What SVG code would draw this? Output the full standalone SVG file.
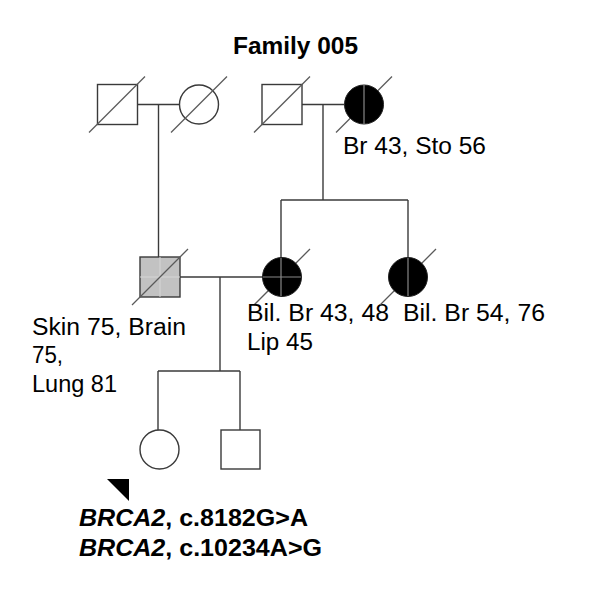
<svg xmlns="http://www.w3.org/2000/svg" width="600" height="600" viewBox="0 0 600 600">
<style>
.ln{stroke:#3a3a3a;stroke-width:1.4;fill:none}
.sh{stroke:#3a3a3a;stroke-width:1.4;fill:#fff}
.dg{stroke:#5a5a5a;stroke-width:1.3;fill:none}
.blk{fill:#000;stroke:#222;stroke-width:1}
.in{stroke:#888;stroke-width:1.2;fill:none}
.t{font-family:"Liberation Sans",Arial,Helvetica,sans-serif;font-size:23.5px;fill:#000}
.b{font-weight:bold}
</style>
<rect width="600" height="600" fill="#fff"/>
<text class="t b" x="233" y="54" textLength="125" lengthAdjust="spacingAndGlyphs">Family 005</text>
<g id="connectors">
<line class="ln" x1="137" y1="104.5" x2="179.5" y2="104.5"/>
<line class="ln" x1="158.5" y1="104.5" x2="158.5" y2="257"/>
<line class="ln" x1="302" y1="104.5" x2="344.5" y2="104.5"/>
<line class="ln" x1="323" y1="104.5" x2="323" y2="200"/>
<line class="ln" x1="281" y1="200" x2="408" y2="200"/>
<line class="ln" x1="281" y1="200" x2="281" y2="258"/>
<line class="ln" x1="408" y1="200" x2="408" y2="258"/>
<line class="ln" x1="180" y1="277" x2="262.5" y2="277"/>
<line class="ln" x1="220" y1="277" x2="220" y2="371"/>
<line class="ln" x1="158" y1="371" x2="240" y2="371"/>
<line class="ln" x1="158" y1="371" x2="158" y2="430"/>
<line class="ln" x1="240" y1="371" x2="240" y2="430"/>
</g>
<g id="I1">
<rect class="sh" x="97.5" y="84.5" width="40" height="40"/>
<line class="dg" x1="89" y1="132.5" x2="145" y2="76.5"/>
</g>
<g id="I2">
<circle class="sh" cx="199" cy="104.5" r="19.5"/>
<line class="dg" x1="171" y1="132.5" x2="227" y2="76.5"/>
</g>
<g id="I3">
<rect class="sh" x="262" y="84.5" width="40" height="40"/>
<line class="dg" x1="254" y1="132.5" x2="310" y2="76.5"/>
</g>
<g id="I4">
<line class="dg" x1="336" y1="132.5" x2="392" y2="76.5"/>
<circle class="blk" cx="364" cy="104.5" r="19.5"/>
<line class="in" x1="364" y1="85" x2="364" y2="124"/>
<text class="t" x="343" y="154" textLength="143" lengthAdjust="spacingAndGlyphs">Br 43, Sto 56</text>
</g>
<g id="II1">
<rect x="140" y="257" width="40" height="40" fill="#c2c2c2" stroke="#3a3a3a" stroke-width="1.4"/>
<line x1="160" y1="257" x2="160" y2="297" stroke="#d6d6d6" stroke-width="1"/>
<line x1="140" y1="277" x2="180" y2="277" stroke="#d6d6d6" stroke-width="1"/>
<line class="dg" x1="132" y1="305" x2="188" y2="249"/>
<text class="t" x="32" y="335" textLength="154" lengthAdjust="spacingAndGlyphs">Skin 75, Brain</text>
<text class="t" x="32" y="363" textLength="31" lengthAdjust="spacingAndGlyphs">75,</text>
<text class="t" x="32" y="392" textLength="85" lengthAdjust="spacingAndGlyphs">Lung 81</text>
</g>
<g id="II2">
<line class="dg" x1="254" y1="305" x2="310" y2="249"/>
<circle class="blk" cx="282" cy="277" r="19.5"/>
<line class="in" x1="281" y1="258" x2="281" y2="296"/>
<line class="in" x1="263" y1="277" x2="301" y2="277"/>
<text class="t" x="247" y="321" textLength="142" lengthAdjust="spacingAndGlyphs">Bil. Br 43, 48</text>
<text class="t" x="247" y="350" textLength="66" lengthAdjust="spacingAndGlyphs">Lip 45</text>
</g>
<g id="II3">
<line class="dg" x1="380" y1="305" x2="436" y2="249"/>
<circle class="blk" cx="408" cy="277" r="19.5"/>
<line class="in" x1="408" y1="258" x2="408" y2="296"/>
<text class="t" x="403" y="321" textLength="142" lengthAdjust="spacingAndGlyphs">Bil. Br 54, 76</text>
</g>
<g id="III1">
<circle class="sh" cx="159.5" cy="449.5" r="19.5"/>
<polygon points="107,479 129,479 129,501" fill="#000"/>
<text class="t b" x="79" y="526" textLength="229" lengthAdjust="spacingAndGlyphs"><tspan font-style="italic">BRCA2</tspan>, c.8182G&gt;A</text>
<text class="t b" x="79" y="556" textLength="243" lengthAdjust="spacingAndGlyphs"><tspan font-style="italic">BRCA2</tspan>, c.10234A&gt;G</text>
</g>
<g id="III2">
<rect class="sh" x="221" y="430" width="39" height="39"/>
</g>
</svg>
